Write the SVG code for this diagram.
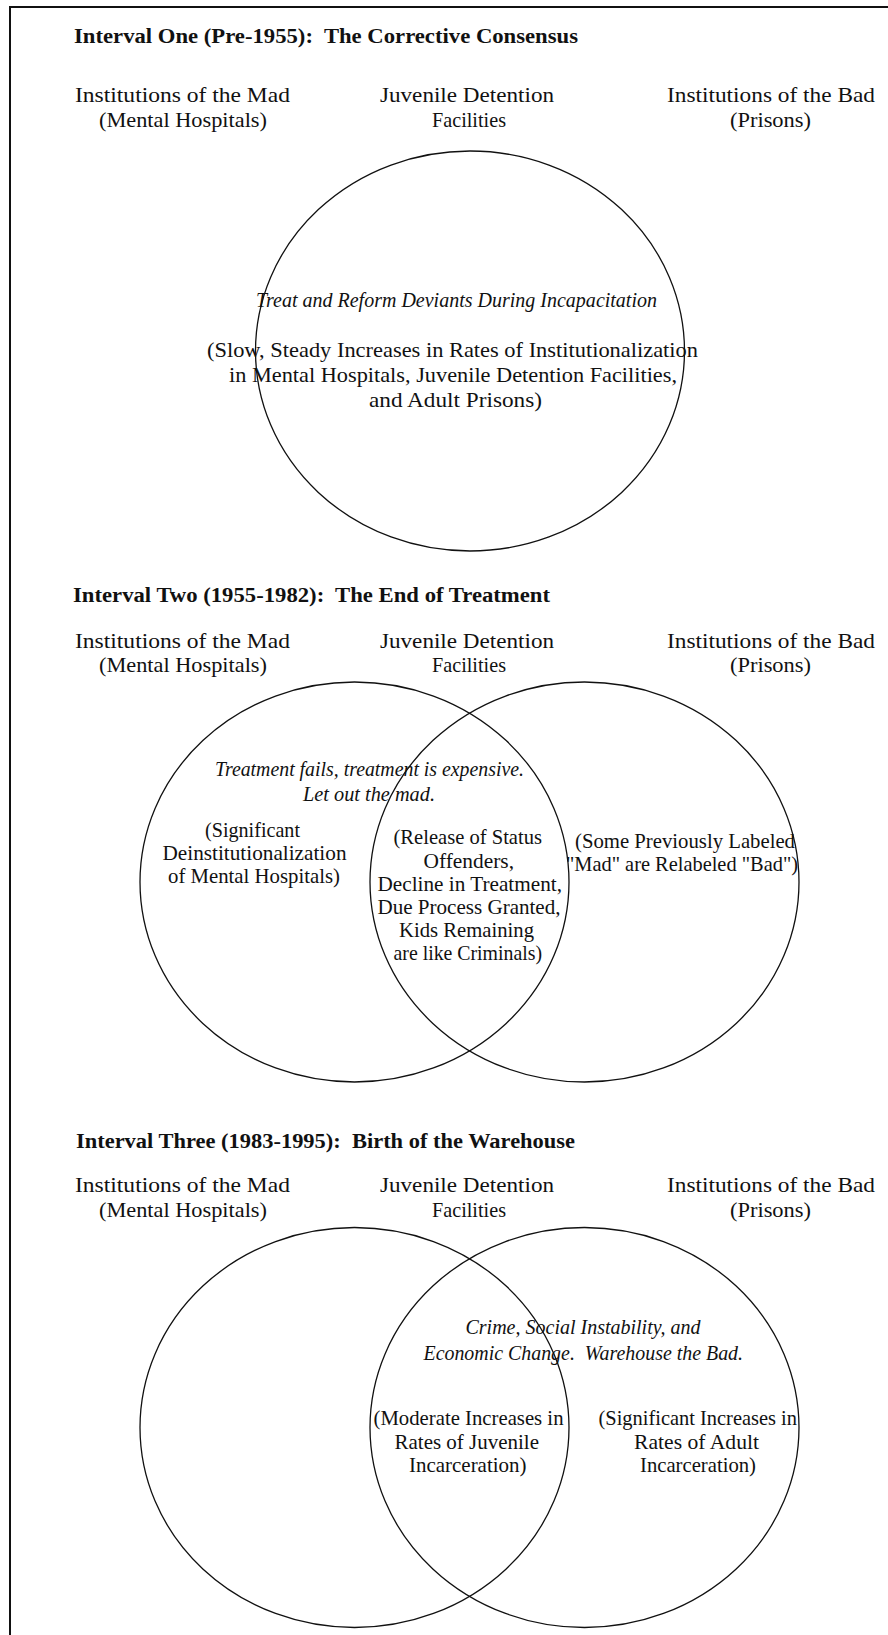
<svg xmlns="http://www.w3.org/2000/svg" width="888" height="1635" viewBox="0 0 888 1635">
<style>
text{font-family:"Liberation Serif","Times New Roman",serif;font-size:21px;fill:#111;}
.t{font-weight:bold;font-size:20px;}
.i{font-style:italic;}
.c{fill:none;stroke:#111;stroke-width:1.3;}
</style>
<rect x="0" y="0" width="888" height="1635" fill="#fff"/>
<path d="M10,1635 V7 H888" fill="none" stroke="#111" stroke-width="2"/>

<g id="interval1">
<g id="title1"><text class="t" x="74" y="43" textLength="504" lengthAdjust="spacingAndGlyphs" xml:space="preserve">Interval One (Pre-1955):  The Corrective Consensus</text></g>
<g id="mad1"><text x="75" y="102" textLength="215" lengthAdjust="spacingAndGlyphs">Institutions of the Mad</text><text x="99" y="127" textLength="168" lengthAdjust="spacingAndGlyphs">(Mental Hospitals)</text></g>
<g id="juv1"><text x="380" y="102" textLength="174" lengthAdjust="spacingAndGlyphs">Juvenile Detention</text><text x="432" y="127" textLength="74" lengthAdjust="spacingAndGlyphs">Facilities</text></g>
<g id="bad1"><text x="667" y="102" textLength="208" lengthAdjust="spacingAndGlyphs">Institutions of the Bad</text><text x="730" y="127" textLength="81" lengthAdjust="spacingAndGlyphs">(Prisons)</text></g>
<g id="circle1">
<ellipse class="c" cx="470" cy="351" rx="214.5" ry="200"/>
<text class="i" x="256" y="307" textLength="401" lengthAdjust="spacingAndGlyphs">Treat and Reform Deviants During Incapacitation</text>
<text x="207" y="357" textLength="491" lengthAdjust="spacingAndGlyphs">(Slow, Steady Increases in Rates of Institutionalization</text>
<text x="229" y="382" textLength="448" lengthAdjust="spacingAndGlyphs">in Mental Hospitals, Juvenile Detention Facilities,</text>
<text x="369" y="407" textLength="173" lengthAdjust="spacingAndGlyphs">and Adult Prisons)</text>
</g>
</g>

<g id="interval2">
<g id="title2"><text class="t" x="73" y="602" textLength="477" lengthAdjust="spacingAndGlyphs" xml:space="preserve">Interval Two (1955-1982):  The End of Treatment</text></g>
<g id="mad2"><text x="75" y="648" textLength="215" lengthAdjust="spacingAndGlyphs">Institutions of the Mad</text><text x="99" y="672" textLength="168" lengthAdjust="spacingAndGlyphs">(Mental Hospitals)</text></g>
<g id="juv2"><text x="380" y="648" textLength="174" lengthAdjust="spacingAndGlyphs">Juvenile Detention</text><text x="432" y="672" textLength="74" lengthAdjust="spacingAndGlyphs">Facilities</text></g>
<g id="bad2"><text x="667" y="648" textLength="208" lengthAdjust="spacingAndGlyphs">Institutions of the Bad</text><text x="730" y="672" textLength="81" lengthAdjust="spacingAndGlyphs">(Prisons)</text></g>
<g id="circle2-mad">
<ellipse class="c" cx="354.5" cy="882" rx="214.5" ry="200"/>
<text class="i" x="215" y="776" textLength="309" lengthAdjust="spacingAndGlyphs">Treatment fails, treatment is expensive.</text>
<text class="i" x="303" y="801" textLength="132" lengthAdjust="spacingAndGlyphs">Let out the mad.</text>
<text x="205" y="837" textLength="95" lengthAdjust="spacingAndGlyphs">(Significant</text>
<text x="162.5" y="860" textLength="184" lengthAdjust="spacingAndGlyphs">Deinstitutionalization</text>
<text x="168" y="883" textLength="172" lengthAdjust="spacingAndGlyphs">of Mental Hospitals)</text>
</g>
<g id="circle2-bad">
<ellipse class="c" cx="584.5" cy="882" rx="214.5" ry="200"/>
<text x="575" y="848" textLength="220" lengthAdjust="spacingAndGlyphs">(Some Previously Labeled</text>
<text x="566" y="871" textLength="232" lengthAdjust="spacingAndGlyphs">"Mad" are Relabeled "Bad")</text>
</g>
<g id="overlap2">
<text x="393.5" y="844" textLength="148.5" lengthAdjust="spacingAndGlyphs">(Release of Status</text>
<text x="423.5" y="868" textLength="90.5" lengthAdjust="spacingAndGlyphs">Offenders,</text>
<text x="377.5" y="891" textLength="184.5" lengthAdjust="spacingAndGlyphs">Decline in Treatment,</text>
<text x="377.5" y="914" textLength="183" lengthAdjust="spacingAndGlyphs">Due Process Granted,</text>
<text x="399" y="937" textLength="135" lengthAdjust="spacingAndGlyphs">Kids Remaining</text>
<text x="393.5" y="960" textLength="148.5" lengthAdjust="spacingAndGlyphs">are like Criminals)</text>
</g>
</g>

<g id="interval3">
<g id="title3"><text class="t" x="76" y="1148" textLength="499" lengthAdjust="spacingAndGlyphs" xml:space="preserve">Interval Three (1983-1995):  Birth of the Warehouse</text></g>
<g id="mad3"><text x="75" y="1192" textLength="215" lengthAdjust="spacingAndGlyphs">Institutions of the Mad</text><text x="99" y="1217" textLength="168" lengthAdjust="spacingAndGlyphs">(Mental Hospitals)</text></g>
<g id="juv3"><text x="380" y="1192" textLength="174" lengthAdjust="spacingAndGlyphs">Juvenile Detention</text><text x="432" y="1217" textLength="74" lengthAdjust="spacingAndGlyphs">Facilities</text></g>
<g id="bad3"><text x="667" y="1192" textLength="208" lengthAdjust="spacingAndGlyphs">Institutions of the Bad</text><text x="730" y="1217" textLength="81" lengthAdjust="spacingAndGlyphs">(Prisons)</text></g>
<g id="circle3-mad">
<ellipse class="c" cx="354.5" cy="1427.5" rx="214.5" ry="200"/>
</g>
<g id="circle3-bad">
<ellipse class="c" cx="584.5" cy="1427.5" rx="214.5" ry="200"/>
<text class="i" x="465.5" y="1334" textLength="235" lengthAdjust="spacingAndGlyphs">Crime, Social Instability, and</text>
<text class="i" x="423.5" y="1360" textLength="319.5" lengthAdjust="spacingAndGlyphs" xml:space="preserve">Economic Change.  Warehouse the Bad.</text>
<text x="598.5" y="1425" textLength="198.5" lengthAdjust="spacingAndGlyphs">(Significant Increases in</text>
<text x="634" y="1449" textLength="125" lengthAdjust="spacingAndGlyphs">Rates of Adult</text>
<text x="640" y="1472" textLength="116" lengthAdjust="spacingAndGlyphs">Incarceration)</text>
</g>
<g id="overlap3">
<text x="373.5" y="1425" textLength="190" lengthAdjust="spacingAndGlyphs">(Moderate Increases in</text>
<text x="394.5" y="1449" textLength="144.5" lengthAdjust="spacingAndGlyphs">Rates of Juvenile</text>
<text x="409" y="1472" textLength="117.5" lengthAdjust="spacingAndGlyphs">Incarceration)</text>
</g>
</g>
<g id="connectors"></g>
</svg>
